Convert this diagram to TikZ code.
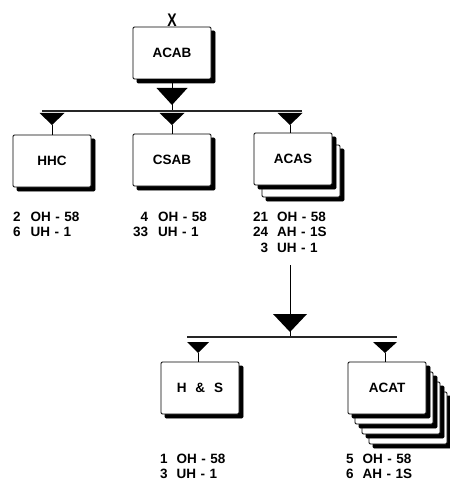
\documentclass[tikz,border=0pt]{standalone}
\usepackage{fontspec}
\setmainfont{Liberation Sans}
\newcommand\ohdash{\hspace{4.5pt}-\hspace{4.5pt}}
\newcommand\ktri[3]{\fill (#1) ++(-#2,0) -- ++(2*#2,0) -- ++(-#2,#3) -- cycle;}
\begin{document}
\begin{tikzpicture}[x=1pt,y=-1pt,
  unit/.style={draw=black, fill=white, line width=0.9pt, minimum width=78pt,
    minimum height=52pt, inner sep=0pt, rounded corners=1.2pt,
    preaction={fill=black, draw=black, transform canvas={shift={(4pt,-4pt)}}},
    font=\fontsize{13.5}{16}\selectfont\bfseries},
  counts/.style={anchor=base west, inner sep=0pt,
    font=\fontsize{13.5}{15.5}\selectfont\bfseries},
  bus/.style={draw=black!85, line width=1.6pt},
  conn/.style={draw=black, line width=0.9pt}]
\useasboundingbox (0,0) rectangle (449,481);

% ---------- top ----------
\node[unit] (acab) at (172,53) {ACAB};
\node[inner sep=0pt, anchor=south, font=\fontsize{14}{16}\selectfont\bfseries]
  (x) at (172,26.5) {\scalebox{1}[1.3]{X}};

\coordinate (t1) at (172,88);
\coordinate (b1l) at (42,111);
\coordinate (b1r) at (302,111);
\draw[conn] (acab.south) -- (acab.south |- b1l);
\draw[bus] (b1l) -- (b1r);
\ktri{t1}{15.5}{17}

% ---------- level 2 ----------
\node[unit] (acas2) at (301,171) {};
\node[unit] (hhc) at (52,161) {HHC};
\node[unit] (csab) at (172,160) {CSAB};
\node[unit] (acas) at (293,159) {ACAS};

\coordinate (s1) at (52,113);
\coordinate (s2) at (172,113);
\coordinate (s3) at (290,113);
\foreach \s in {s1,s2,s3} { \ktri{\s}{12.5}{12} }
\draw[conn] (52,125) -- (hhc.north);
\draw[conn] (172,125) -- (csab.north);
\draw[conn] (290,125) -- (290,133);

\node[counts] (hhctxt) at (13,221)
  {\begin{tabular}[t]{@{}r@{\hspace{10pt}}l@{}}2 & OH\ohdash58\\ 6 & UH\ohdash1\end{tabular}};
\node[counts] (csabtxt) at (133,221)
  {\begin{tabular}[t]{@{}r@{\hspace{10pt}}l@{}}4 & OH\ohdash58\\ 33 & UH\ohdash1\end{tabular}};
\node[counts] (acastxt) at (253,221)
  {\begin{tabular}[t]{@{}r@{\hspace{9pt}}l@{}}21 & OH\ohdash58\\ 24 & AH\ohdash1S\\ 3 & UH\ohdash1\end{tabular}};

% ---------- link down ----------
\coordinate (vtop) at (290,265);
\coordinate (t2) at (290,314);
\draw[conn] (vtop) -- (t2);
\ktri{t2}{17}{18}
\coordinate (b2l) at (187,337);
\coordinate (b2r) at (397,337);
\draw[conn] (t2) ++(0,10) -- (290,337);
\draw[bus] (b2l) -- (b2r);

% ---------- level 3 ----------
\node[unit] (acat4) at (408,418) {};
\node[unit] (acat3) at (401,408) {};
\node[unit] (acat2) at (394,398) {};
\node[unit] (hs) at (200,388) {H\hspace{9pt}\&\hspace{9pt}S};
\node[unit] (acat) at (387,388) {ACAT};

\coordinate (s4) at (198,342);
\coordinate (s5) at (385,342);
\ktri{s4}{11}{11}
\ktri{s5}{12}{11}
\draw[conn] (198,353) -- (198,362);
\draw[conn] (385,353) -- (385,362);

\node[counts] (hstxt) at (160,463)
  {\begin{tabular}[t]{@{}r@{\hspace{9pt}}l@{}}1 & OH\ohdash58\\ 3 & UH\ohdash1\end{tabular}};
\node[counts] (acattxt) at (346,463)
  {\begin{tabular}[t]{@{}r@{\hspace{9pt}}l@{}}5 & OH\ohdash58\\ 6 & AH\ohdash1S\end{tabular}};
\end{tikzpicture}
\end{document}
